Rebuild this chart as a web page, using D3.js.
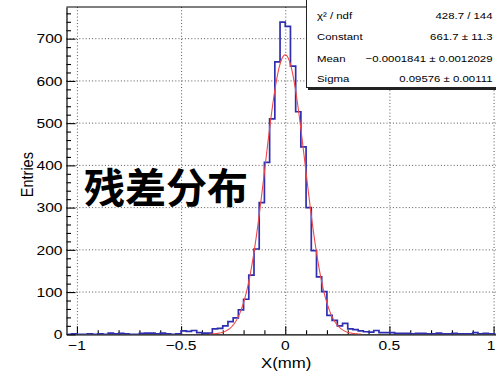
<!DOCTYPE html>
<html>
<head>
<meta charset="utf-8">
<script src="https://cdn.jsdelivr.net/npm/d3@7"></script>
<style>
  html, body { margin: 0; padding: 0; background: #fff; }
  svg { display: block; }
  text { font-family: "Liberation Sans", Arial, Helvetica, sans-serif; fill: #000; }
</style>
</head>
<body>
<svg id="chart" width="496" height="371"></svg>
<script>
// Histogram binning: 84 bins of 0.025 mm covering [-1.05, 1.05]
const histLo = -1.05;
const binWidth = 0.025;
const counts = [
  0, 1, 0, 0, 1, 0, 1, 0, 3, 1,
  2, 1, 0, 0, 2, 3, 3, 1, 3, 1,
  0, 1, 8, 7, 9, 4, 3, 3, 13, 14,
  20, 30, 39, 58, 83, 140, 202, 312, 407, 510,
  645, 739, 729, 635, 527, 444, 300, 198, 136, 101,
  45, 33, 20, 26, 13, 11, 8, 6, 5, 9,
  4, 4, 4, 2, 2, 2, 1, 2, 2, 1,
  1, 3, 1, 1, 2, 1, 1, 1, 4, 1,
  2, 1, 0, 0
];

// Gaussian fit results
const fitConstant = 661.7;
const fitMean = -0.0001841;
const fitSigma = 0.09576;
const fitRange = [-0.365, 0.365];

// Stats box rows: [label, value]
const statLabels = ["χ² / ndf", "Constant", "Mean", "Sigma"];
const statValues = ["428.7 / 144", "661.7 ± 11.3", "−0.0001841 ± 0.0012029", "0.09576 ± 0.00111"];

// Axis ticks
const xMajor = [-1, -0.5, 0, 0.5, 1];
const xMinor = d3.range(-10, 11).map(d => d / 10).filter(d => !xMajor.includes(d));
const yMajor = [0, 100, 200, 300, 400, 500, 600, 700];
const yMinor = d3.range(0, 780, 20).filter(d => d % 100 !== 0);

const xTitle = "X(mm)";
const yTitle = "Entries";
const overlayText = "残差分布";

const SX = 1.2; // horizontal stretch of the canvas text
const W = 496;

const svg = d3.select("#chart");
const frame = { left: 66.5, right: 504, top: 7, bottom: 334.3 };

const x = d3.scaleLinear().domain([-1.05, 1.05]).range([frame.left, frame.right]);
const y = d3.scaleLinear().domain([0, 775]).range([frame.bottom, frame.top]);

svg.append("defs").append("clipPath").attr("id", "plotclip")
  .append("rect")
  .attr("x", frame.left).attr("y", frame.top)
  .attr("width", frame.right - frame.left).attr("height", frame.bottom - frame.top);

// Grid
const grid = svg.append("g").attr("stroke", "#444").attr("stroke-width", 0.9)
  .attr("stroke-dasharray", "1,2.2");
grid.selectAll(".gx").data(xMajor).join("line")
  .attr("x1", d => x(d) + 0.5).attr("x2", d => x(d) + 0.5)
  .attr("y1", frame.top).attr("y2", frame.bottom);
grid.selectAll(".gy").data(yMajor.filter(d => d > 0)).join("line")
  .attr("x1", frame.left).attr("x2", frame.right)
  .attr("y1", d => y(d)).attr("y2", d => y(d));

// Frame top border
svg.append("line")
  .attr("x1", frame.left).attr("x2", frame.right)
  .attr("y1", frame.top).attr("y2", frame.top)
  .attr("stroke", "#000").attr("stroke-width", 1);

// Axes: ticks pointing into the frame
const axisStyle = g => {
  g.select(".domain").attr("stroke", "#000").attr("stroke-width", 1.2);
  g.selectAll(".tick line").attr("stroke", "#000").attr("stroke-width", 1.1);
};

svg.append("g").attr("transform", `translate(0,${frame.bottom})`)
  .call(d3.axisBottom(x).tickValues(xMajor).tickSize(-8).tickSizeOuter(0).tickFormat(""))
  .call(axisStyle);
svg.append("g").attr("transform", `translate(0,${frame.bottom})`)
  .call(d3.axisBottom(x).tickValues(xMinor).tickSize(-4).tickSizeOuter(0).tickFormat(""))
  .call(axisStyle).call(g => g.select(".domain").remove());

svg.append("g").attr("transform", `translate(${frame.left},0)`)
  .call(d3.axisLeft(y).tickValues(yMajor).tickSize(-9).tickSizeOuter(0).tickFormat(""))
  .call(axisStyle);
svg.append("g").attr("transform", `translate(${frame.left},0)`)
  .call(d3.axisLeft(y).tickValues(yMinor).tickSize(-4.5).tickSizeOuter(0).tickFormat(""))
  .call(axisStyle).call(g => g.select(".domain").remove());

// Tick labels (the last one is kept inside the page edge)
const fmt = d3.format("");
svg.append("g").selectAll("text").data(xMajor).join("text")
  .style("font-size", "13px")
  .text(d => fmt(d))
  .each(function(d) {
    const t = d3.select(this);
    const half = this.getComputedTextLength() * SX / 2;
    const cx = Math.min(x(d), W - 0.5 - half);
    t.attr("transform", `translate(${cx},349.5) scale(${SX},1)`).attr("text-anchor", "middle");
  });

svg.append("g").selectAll("text").data(yMajor).join("text")
  .attr("transform", d => `translate(62.5,${y(d) + 4.7}) scale(${SX},1)`)
  .attr("text-anchor", "end")
  .style("font-size", "13px")
  .text(d => fmt(d));

// Axis titles
svg.append("text")
  .attr("transform", `translate(${x(0) + 1},367.5) scale(${SX},1)`)
  .attr("text-anchor", "middle")
  .style("font-size", "14px")
  .text(xTitle);

svg.append("text")
  .attr("transform", `translate(32.5,${(frame.top + frame.bottom) / 2 + 4}) scale(${SX},1) rotate(-90)`)
  .attr("text-anchor", "middle")
  .style("font-size", "14.5px")
  .text(yTitle);

// Histogram outline
const plot = svg.append("g").attr("clip-path", "url(#plotclip)");
const steps = counts.map((c, i) => [histLo + i * binWidth, c]);
steps.push([histLo + counts.length * binWidth, counts[counts.length - 1]]);
plot.append("path")
  .datum(steps)
  .attr("fill", "none")
  .attr("stroke", "#2e2eb0")
  .attr("stroke-width", 1.7)
  .attr("d", d3.line().x(d => x(d[0])).y(d => y(d[1])).curve(d3.curveStepAfter));

// Gaussian fit curve
const gauss = v => fitConstant * Math.exp(-0.5 * ((v - fitMean) / fitSigma) ** 2);
const fitPts = d3.range(0, 201).map(k => {
  const v = fitRange[0] + (fitRange[1] - fitRange[0]) * k / 200;
  return [v, gauss(v)];
});
plot.append("path")
  .datum(fitPts)
  .attr("fill", "none")
  .attr("stroke", "#f04848")
  .attr("stroke-width", 1.1)
  .attr("d", d3.line().x(d => x(d[0])).y(d => y(d[1])).curve(d3.curveLinear));

// Overlay caption
svg.append("text")
  .attr("x", 84).attr("y", 203)
  .style("font-family", "'Noto Sans CJK SC', sans-serif")
  .style("font-weight", "bold")
  .style("font-size", "41px")
  .text(overlayText);

// Stats box
const box = svg.append("g");
box.append("rect")
  .attr("x", 308).attr("y", -3).attr("width", 200).attr("height", 93)
  .attr("fill", "#222");
box.append("rect")
  .attr("x", 306.5).attr("y", -3).attr("width", 200).attr("height", 90.5)
  .attr("fill", "#fff").attr("stroke", "#222").attr("stroke-width", 1);

const rowY = [18.5, 39.5, 61.5, 82];
box.selectAll(".lab").data(statLabels).join("text")
  .attr("transform", (d, i) => `translate(317,${rowY[i]}) scale(${SX},1)`)
  .style("font-size", "9.5px")
  .text(d => d);
box.selectAll(".val").data(statValues).join("text")
  .attr("transform", (d, i) => `translate(492.5,${rowY[i]}) scale(${SX},1)`)
  .attr("text-anchor", "end")
  .style("font-size", "9.5px")
  .text(d => d);
</script>
</body>
</html>
